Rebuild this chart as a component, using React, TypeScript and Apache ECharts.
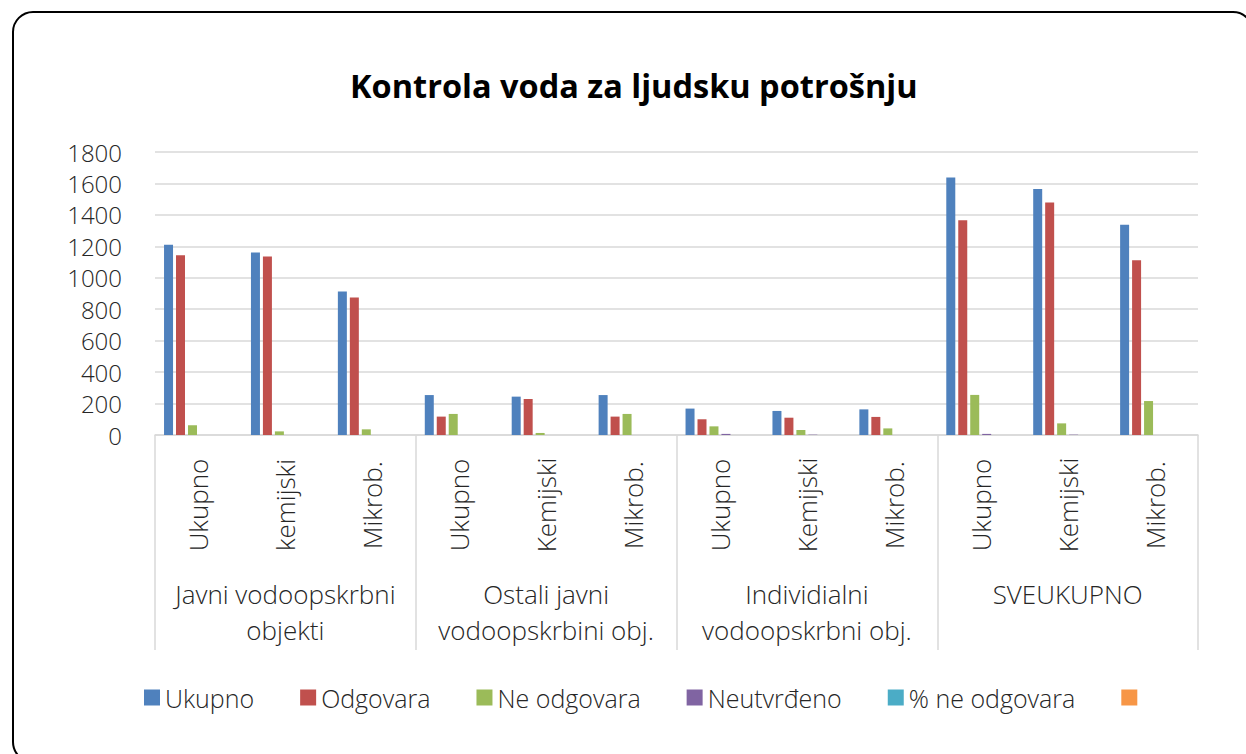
import React, { useEffect, useRef } from "react";
import * as echarts from "echarts";

const subCategories = [
  "Ukupno", "kemijski", "Mikrob.",
  "Ukupno", "Kemijski", "Mikrob.",
  "Ukupno", "Kemijski", "Mikrob.",
  "Ukupno", "Kemijski", "Mikrob.",
];
const groups = [
  "Javni vodoopskrbni\nobjekti",
  "Ostali javni\nvodoopskrbini obj.",
  "Individialni\nvodoopskrbni obj.",
  "SVEUKUPNO",
];
const ukupno = [1210, 1160, 912, 254, 244, 254, 168, 153, 163, 1638, 1564, 1337];
const odgovara = [1143, 1135, 874, 117, 229, 117, 100, 110, 115, 1366, 1479, 1112];
const neOdgovara = [62, 23, 36, 134, 13, 134, 55, 32, 42, 255, 74, 216];
const neutvrdeno = [null, null, null, null, null, null, 7, 2, null, 7, 2, null];
const postoNeOdgovara: (number | null)[] = [null, null, null, null, null, null, null, null, null, null, null, null];
const prazno: (number | null)[] = [null, null, null, null, null, null, null, null, null, null, null, null];

const seriesNames = ["Ukupno", "Odgovara", "Ne odgovara", "Neutvrđeno", "% ne odgovara", " "];
const colors = ["#4F81BD", "#C0504D", "#9BBB59", "#8064A2", "#4BACC6", "#F79646"];

const FONT = "'Open Sans'";

export default function App() {
  const ref = useRef<HTMLDivElement>(null);
  useEffect(() => {
    document.body.style.margin = "0";
    if (!ref.current) return;
    const chart = echarts.init(ref.current, undefined, { renderer: "svg" });
    const dataSets = [ukupno, odgovara, neOdgovara, neutvrdeno, postoNeOdgovara, prazno];
    chart.setOption({
      animation: false,
      color: colors,
      textStyle: { fontFamily: FONT },
      title: {
        text: "Kontrola voda za ljudsku potrošnju",
        left: 345,
        top: 64,
        textStyle: { fontFamily: FONT, fontSize: 32.5, fontWeight: "bold", color: "#000" },
      },
      legend: {
        left: 139,
        top: 680,
        itemWidth: 16,
        itemHeight: 16,
        itemGap: 46,
        icon: "rect",
        data: seriesNames,
        textStyle: { fontFamily: FONT, fontSize: 25, fontWeight: 300, color: "#262626" },
      },
      grid: { left: 155, right: 48, top: 152, bottom: 319, containLabel: false },
      xAxis: [
        {
          type: "category",
          data: subCategories,
          position: "bottom",
          axisLine: { show: true, lineStyle: { color: "#d9d9d9", width: 1.5 } },
          axisTick: { show: false },
          axisLabel: {
            rotate: 90,
            align: "center",
            verticalAlign: "middle",
            margin: 70,
            interval: 0,
            fontFamily: FONT,
            fontSize: 26,
            fontWeight: 300,
            color: "#262626",
          },
        },
        {
          type: "category",
          data: groups,
          position: "bottom",
          axisLine: { show: false },
          axisTick: { show: true, length: 215, lineStyle: { color: "#d9d9d9", width: 1.5 } },
          axisLabel: {
            margin: 141,
            interval: 0,
            fontFamily: FONT,
            fontSize: 26,
            fontWeight: 300,
            lineHeight: 36,
            color: "#262626",
          },
          splitLine: { show: false },
        },
      ],
      yAxis: {
        type: "value",
        min: 0,
        max: 1800,
        interval: 200,
        axisLine: { show: false },
        axisTick: { show: false },
        splitLine: { lineStyle: { color: "#d9d9d9", width: 1.5 } },
        axisLabel: {
          margin: 33,
          fontFamily: FONT,
          fontSize: 24,
          fontWeight: 300,
          color: "#262626",
          formatter: (v: number) => String(v),
        },
      },
      series: seriesNames.map((name, i) => ({
        name,
        type: "bar",
        xAxisIndex: 0,
        data: dataSets[i],
        barWidth: 9,
        barGap: "33%",
        itemStyle: { color: colors[i] },
      })),
      graphic: [
        {
          type: "rect",
          shape: { x: 13, y: 12, width: 1240, height: 750, r: 20 },
          style: { fill: "none", stroke: "#000", lineWidth: 2 },
          silent: true,
        },
      ],
    });
    return () => chart.dispose();
  }, []);
  return <div ref={ref} style={{ width: 1246, height: 754, overflow: "hidden" }} />;
}
